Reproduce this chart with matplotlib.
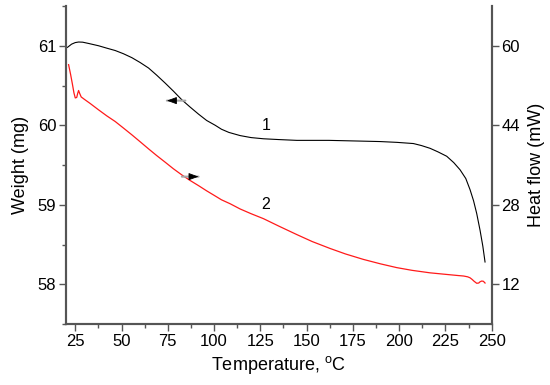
import numpy as np
import matplotlib.pyplot as plt
from matplotlib.ticker import MultipleLocator, FixedLocator

plt.rcParams['font.family'] = ['Liberation Sans', 'DejaVu Sans']
plt.rcParams['mathtext.fontset'] = 'custom'
plt.rcParams['mathtext.rm'] = 'Liberation Sans'

# curve 1: weight (left axis)
t_weight = [20.8, 23, 25, 26.8, 29, 32, 37.6, 42, 46.6, 51, 55.6, 60, 64.6, 69, 73.6, 78, 82.6,
            87, 91.6, 96, 100.6, 104, 108, 114.1, 120, 126.7, 135, 144.7, 162, 180.7, 189.7,
            198.7, 207.7, 212, 216.7, 221, 225.7, 229.5, 232.9, 236, 238.3, 240.2, 241.9,
            243.7, 245.2, 246.4]
weight = [60.98, 61.02, 61.04, 61.047, 61.045, 61.03, 61.0, 60.97, 60.94, 60.90, 60.85, 60.79,
          60.72, 60.63, 60.53, 60.43, 60.32, 60.23, 60.14, 60.06, 60.0, 59.95, 59.91, 59.87,
          59.845, 59.83, 59.82, 59.81, 59.81, 59.80, 59.795, 59.785, 59.77, 59.745, 59.71,
          59.665, 59.61, 59.53, 59.44, 59.33, 59.19, 59.05, 58.89, 58.68, 58.48, 58.28]

# curve 2: heat flow (right axis)
t_heat = [21.4, 22.5, 23.5, 24.3, 25.0, 25.8, 26.3, 26.8, 27.4, 28.2, 30, 33, 37.6, 42, 46.6,
          51, 55.6, 60, 64.6, 69, 73.6, 78, 82.6, 87, 91.6, 96, 100.6, 104, 108.7, 114.1, 120,
          126.7, 135, 144.7, 153, 162.7, 171, 180.7, 190, 198.7, 207, 216.7, 225, 232, 234.8,
          237, 238.3, 239.5, 240.5, 241.9, 243, 243.7, 244.6, 245.5, 246.4]
heat = [56.2, 54.2, 52.2, 50.5, 49.5, 49.6, 50.4, 51.0, 50.4, 49.7, 49.2, 48.4, 47.1, 45.9,
        44.75, 43.45, 42.07, 40.7, 39.25, 37.9, 36.56, 35.25, 34.0, 32.9, 31.85, 30.8, 29.77,
        29.0, 28.2, 27.15, 26.2, 25.2, 23.7, 22.0, 20.6, 19.2, 18.1, 17.0, 16.1, 15.35, 14.8,
        14.3, 14.0, 13.75, 13.66, 13.5, 13.3, 12.95, 12.6, 12.2, 12.25, 12.5, 12.65, 12.6, 12.25]

sc = '#555555'
fig = plt.figure(figsize=(5.5, 3.85), dpi=100)
ax = fig.add_axes([0.12, 0.1584, 0.774, 0.826])
ax2 = ax.twinx()

ax.plot(t_weight, weight, color='black', lw=0.8)
ax2.plot(t_heat, heat, color='#ff1a1a', lw=0.9)

ax.set_xlim(20, 250)
ax.set_ylim(57.5, 61.5)
ax2.set_ylim(4, 68)

ax.xaxis.set_major_locator(FixedLocator(np.arange(25, 251, 25)))
ax.xaxis.set_minor_locator(FixedLocator(np.arange(25, 251, 12.5)))
ax.yaxis.set_major_locator(MultipleLocator(1))
ax.yaxis.set_minor_locator(MultipleLocator(0.5))
ax2.yaxis.set_major_locator(FixedLocator([12, 28, 44, 60]))

for a in (ax, ax2):
    a.spines['top'].set_visible(False)
    for s in a.spines.values():
        s.set_color(sc)
        s.set_linewidth(1.5)
    a.tick_params(which='major', length=5, width=1, color=sc, labelsize=12, pad=2)
    a.tick_params(which='minor', length=3, width=1, color=sc)

ax.set_xlabel(r"Temperature, $^{\mathrm{o}}$C", fontsize=13, labelpad=4)
ax.set_ylabel("Weight (mg)", fontsize=13, labelpad=6)
ax2.set_ylabel("Heat flow (mW)", fontsize=13, labelpad=6)

ax.text(128, 60.0, "1", fontsize=11.5, ha='center', va='center')
ax.text(128, 59.0, "2", fontsize=11.5, ha='center', va='center')

# direction arrows: gray shaft, black head
shaft = dict(arrowstyle='-', color='#a8a8a8', lw=1.5, shrinkA=0, shrinkB=0)
head = dict(arrowstyle='-|>,head_length=0.6,head_width=0.22', color='black', lw=0.6,
            shrinkA=0, shrinkB=0, mutation_scale=10)
ax.annotate("", xy=(74.5, 60.31), xytext=(84.5, 60.31), arrowprops=shaft)
ax.annotate("", xy=(74.5, 60.31), xytext=(78.0, 60.31), arrowprops=head)
ax2.annotate("", xy=(91.6, 33.66), xytext=(82.6, 33.66), arrowprops=shaft)
ax2.annotate("", xy=(91.6, 33.66), xytext=(88.2, 33.66), arrowprops=head)

fig.savefig("out.png", dpi=100)
